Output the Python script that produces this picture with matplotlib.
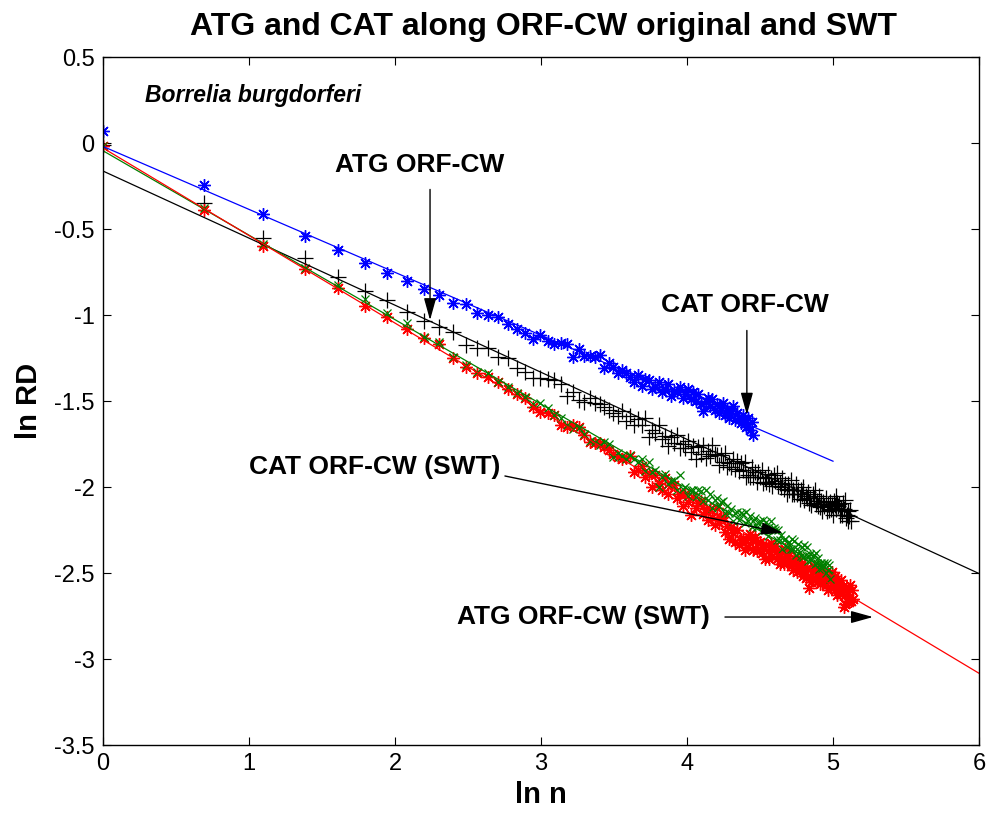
import numpy as np
import matplotlib
matplotlib.use("Agg")
import matplotlib.pyplot as plt

plt.rcParams['axes.unicode_minus'] = False
plt.rcParams['font.family'] = ['Liberation Sans', 'DejaVu Sans']

# ln RD for n = 1, 2, 3, ... (x axis is ln n)
cat_orig = [
    0.07, -0.245, -0.41, -0.54, -0.62, -0.70, -0.755, -0.80, -0.85, -0.885,
    -0.93, -0.935, -0.99, -1.00, -1.01, -1.05, -1.08, -1.105, -1.14, -1.115,
    -1.15, -1.17, -1.165, -1.17, -1.245, -1.20, -1.24, -1.24, -1.245, -1.235,
    -1.31, -1.28, -1.30, -1.335, -1.32, -1.34, -1.36, -1.39, -1.35, -1.41,
    -1.37, -1.38, -1.43, -1.42, -1.39, -1.45, -1.43, -1.40, -1.47, -1.44,
    -1.45, -1.42, -1.48, -1.46, -1.43, -1.49, -1.45, -1.50, -1.46, -1.52,
    -1.56, -1.50, -1.48, -1.53, -1.49, -1.55, -1.52, -1.57, -1.54, -1.51,
    -1.58, -1.55, -1.60, -1.56, -1.53, -1.61, -1.57, -1.60, -1.63, -1.58,
    -1.62, -1.65, -1.60, -1.67, -1.62, -1.70]

atg_orig = [
    -0.01, -0.35, -0.55, -0.67, -0.78, -0.86, -0.91, -0.98, -1.035, -1.07,
    -1.10, -1.175, -1.19, -1.19, -1.245, -1.25, -1.31, -1.33, -1.365, -1.365,
    -1.37, -1.38, -1.40, -1.47, -1.45, -1.495, -1.505, -1.485, -1.51, -1.52,
    -1.535, -1.55, -1.57, -1.59, -1.56, -1.615, -1.59, -1.64, -1.605, -1.64,
    -1.60, -1.71, -1.67, -1.685, -1.64, -1.72, -1.705, -1.76, -1.71, -1.745,
    -1.70, -1.775, -1.75, -1.775, -1.73, -1.795, -1.76, -1.835, -1.77, -1.81,
    -1.755, -1.83, -1.79, -1.82, -1.755, -1.81, -1.815, -1.87, -1.815, -1.855,
    -1.80, -1.885, -1.86, -1.885, -1.84, -1.895, -1.85, -1.905, -1.86, -1.90,
    -1.855, -1.94, -1.93, -1.94, -1.885, -1.94, -1.915, -1.97, -1.915, -1.94,
    -1.90, -1.975, -1.95, -1.97, -1.925, -1.98, -1.95, -1.995, -1.93, -1.965,
    -1.92, -1.995, -1.975, -2.00, -1.945, -2.01, -1.985, -2.04, -1.98, -2.015,
    -1.96, -2.04, -2.015, -2.04, -1.98, -2.04, -2.015, -2.07, -2.015, -2.04,
    -2.00, -2.075, -2.05, -2.065, -2.03, -2.095, -2.065, -2.105, -2.04, -2.065,
    -2.02, -2.10, -2.08, -2.11, -2.055, -2.115, -2.08, -2.14, -2.085, -2.11,
    -2.065, -2.14, -2.10, -2.135, -2.09, -2.13, -2.105, -2.16, -2.08, -2.105,
    -2.05, -2.13, -2.095, -2.11, -2.10, -2.165, -2.13, -2.16, -2.095, -2.13,
    -2.075, -2.18, -2.16, -2.195, -2.14, -2.17, -2.135, -2.20]

cat_swt = [
    -0.02, -0.38, -0.585, -0.725, -0.825, -0.905, -0.99, -1.045, -1.13, -1.155,
    -1.245, -1.29, -1.33, -1.335, -1.39, -1.42, -1.455, -1.475, -1.52, -1.51,
    -1.54, -1.58, -1.60, -1.64, -1.66, -1.655, -1.69, -1.73, -1.74, -1.755,
    -1.74, -1.75, -1.825, -1.80, -1.82, -1.835, -1.815, -1.84, -1.855, -1.84,
    -1.905, -1.855, -1.91, -1.90, -2.00, -1.94, -1.925, -1.98, -1.965, -1.96,
    -2.02, -1.93, -2.01, -2.00, -2.05, -2.02, -2.015, -2.06, -2.02, -2.025,
    -2.08, -2.02, -2.075, -2.04, -2.12, -2.075, -2.065, -2.11, -2.085, -2.08,
    -2.15, -2.11, -2.15, -2.125, -2.20, -2.15, -2.145, -2.19, -2.15, -2.155,
    -2.21, -2.145, -2.20, -2.17, -2.23, -2.195, -2.18, -2.23, -2.21, -2.195,
    -2.255, -2.19, -2.25, -2.205, -2.285, -2.23, -2.20, -2.245, -2.24, -2.25,
    -2.31, -2.25, -2.31, -2.28, -2.36, -2.31, -2.305, -2.35, -2.325, -2.32,
    -2.36, -2.30, -2.36, -2.315, -2.395, -2.36, -2.33, -2.375, -2.40, -2.35,
    -2.405, -2.34, -2.395, -2.35, -2.43, -2.40, -2.39, -2.425, -2.40, -2.395,
    -2.45, -2.385, -2.44, -2.41, -2.475, -2.445, -2.44, -2.47, -2.455, -2.44,
    -2.50, -2.44, -2.485, -2.455, -2.535]

atg_swt = [
    -0.02, -0.39, -0.60, -0.735, -0.845, -0.945, -1.01, -1.08, -1.135, -1.17,
    -1.25, -1.30, -1.34, -1.36, -1.39, -1.43, -1.46, -1.48, -1.535, -1.565,
    -1.57, -1.58, -1.64, -1.65, -1.64, -1.65, -1.70, -1.74, -1.745, -1.745,
    -1.77, -1.785, -1.81, -1.825, -1.84, -1.83, -1.82, -1.915, -1.90, -1.88,
    -1.94, -1.92, -2.00, -1.93, -1.975, -2.02, -1.95, -2.04, -1.99, -1.99,
    -2.065, -2.04, -2.11, -2.04, -2.09, -2.16, -2.06, -2.12, -2.095, -2.08,
    -2.155, -2.125, -2.19, -2.13, -2.175, -2.22, -2.12, -2.21, -2.18, -2.175,
    -2.26, -2.225, -2.30, -2.23, -2.27, -2.32, -2.25, -2.34, -2.31, -2.30,
    -2.365, -2.31, -2.35, -2.275, -2.31, -2.365, -2.29, -2.37, -2.325, -2.32,
    -2.385, -2.35, -2.42, -2.335, -2.37, -2.42, -2.325, -2.40, -2.365, -2.345,
    -2.42, -2.39, -2.445, -2.37, -2.41, -2.445, -2.36, -2.435, -2.40, -2.385,
    -2.46, -2.43, -2.485, -2.415, -2.45, -2.495, -2.41, -2.49, -2.455, -2.44,
    -2.515, -2.48, -2.53, -2.47, -2.52, -2.59, -2.52, -2.55, -2.49, -2.46,
    -2.535, -2.49, -2.55, -2.48, -2.52, -2.565, -2.48, -2.555, -2.52, -2.505,
    -2.57, -2.535, -2.60, -2.515, -2.54, -2.59, -2.495, -2.56, -2.53, -2.52,
    -2.595, -2.56, -2.625, -2.55, -2.585, -2.62, -2.54, -2.62, -2.575, -2.70,
    -2.68, -2.60, -2.665, -2.59, -2.61, -2.67, -2.57, -2.66, -2.60, -2.65]

# fitted lines: intercept, slope, x end
fit_cat_orig = (-0.02, -0.366, 5.0)
fit_atg_orig = (-0.163, -0.39, 6.0)
fit_cat_swt = (-0.045, -0.491, 5.0)
fit_atg_swt = (-0.029, -0.509, 6.0)


def lnn(vals):
    return np.log(np.arange(1, len(vals) + 1))


fig = plt.figure(figsize=(9.9, 8.23), dpi=100)
ax = fig.add_axes((103 / 990, 78 / 823, 876 / 990, 688 / 823))

ast = (8, 2, 0)
ax.plot(lnn(cat_orig), cat_orig, ls='none', marker=ast, ms=9, mew=1.0, color='#0000ff')
ax.plot(lnn(atg_orig), atg_orig, ls='none', marker='+', ms=11, mew=0.9, color='k')
ax.plot(lnn(atg_swt), atg_swt, ls='none', marker=ast, ms=9, mew=1.0, color='#ff0000')
ax.plot(lnn(cat_swt), cat_swt, ls='none', marker='x', ms=6, mew=0.9, color='#008000')

for (b, m, xe), c in [(fit_cat_orig, '#0000ff'), (fit_atg_orig, 'k'),
                      (fit_cat_swt, '#008000'), (fit_atg_swt, '#ff0000')]:
    xs = np.array([0.0, xe])
    ax.plot(xs, b + m * xs, color=c, lw=0.9)

ax.set_xlim(0, 6)
ax.set_ylim(-3.5, 0.5)
ax.set_xticks(np.arange(0, 7, 1))
ax.set_yticks(np.arange(-3.5, 0.51, 0.5))
ax.set_yticklabels(['-3.5', '-3', '-2.5', '-2', '-1.5', '-1', '-0.5', '0', '0.5'])
ax.tick_params(direction='in', length=6, width=0.8, top=True, right=True, labelsize=17, pad=6)
for s in ax.spines.values():
    s.set_linewidth(1.0)

ax.set_xlabel('ln n', fontsize=21, fontweight='bold', labelpad=4)
ax.set_ylabel('ln RD', fontsize=21, fontweight='bold', labelpad=8)
fig.text(543 / 990, 1 - 27 / 823, 'ATG and CAT along ORF-CW original and SWT', ha='center', va='center',
         fontsize=23, fontweight='bold')

ax.text(0.288, 0.279, 'Borrelia burgdorferi', fontsize=16.5, fontweight='bold', style='italic',
        ha='left', va='center')

arrow = dict(arrowstyle='-|>,head_length=0.9,head_width=0.25', color='k', lw=1,
             mutation_scale=15, shrinkA=0, shrinkB=0)
txt = dict(fontsize=19, fontweight='bold', ha='center', va='center')

ax.text(2.171, -0.128, 'ATG ORF-CW', **txt)
ax.annotate('', xy=(2.24, -1.03), xytext=(2.24, -0.27), arrowprops=arrow)

ax.text(4.397, -0.942, 'CAT ORF-CW', **txt)
ax.annotate('', xy=(4.41, -1.58), xytext=(4.41, -1.09), arrowprops=arrow)

ax.text(1.863, -1.884, 'CAT ORF-CW (SWT)', **txt)
ax.annotate('', xy=(4.658, -2.267), xytext=(2.753, -1.936), arrowprops=arrow)

ax.text(3.288, -2.756, 'ATG ORF-CW (SWT)', **txt)
ax.annotate('', xy=(5.274, -2.756), xytext=(4.26, -2.756), arrowprops=arrow)

fig.savefig('out.png', dpi=100)
